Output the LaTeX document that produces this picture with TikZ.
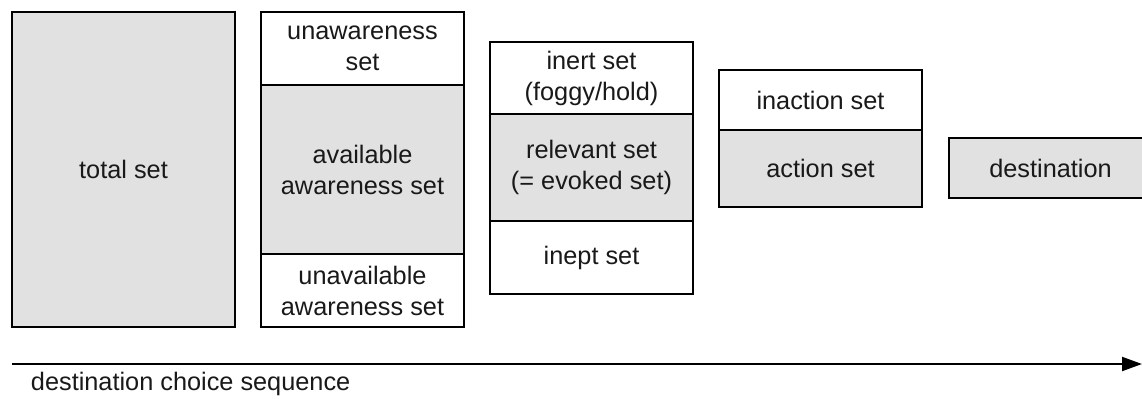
\documentclass[tikz,border=0pt]{standalone}
\usepackage{fontspec}
\setmainfont{Liberation Sans}
\usetikzlibrary{positioning}
\usetikzlibrary{arrows.meta}

\definecolor{setgray}{RGB}{225,225,225}

\tikzset{
    setbox/.style={draw, line width=1.8pt, inner sep=0pt, outer sep=0pt,
        align=center, minimum width=5.075cm, text=black!90},
    grayset/.style={setbox, fill=setgray}
}

\begin{document}
\begin{tikzpicture}[font=\fontsize{18}{22}\selectfont]
    \clip (0,0) rectangle (28.55,-9.95);

    \coordinate (c1) at (0.3, -0.3);
    \coordinate (c2) at (6.525, -0.3);
    \coordinate (c3) at (12.25, -1.05);
    \coordinate (c4) at (17.975, -1.75);
    \coordinate (c5) at (23.725, -3.45);

    \coordinate (s) at (0.3, -9.1);
    \coordinate (e) at (28.55, -9.1);

    % first column
    \node[grayset, anchor=north west, minimum width=5.575cm, minimum height=7.875cm] (total) at (c1) {total set};

    % second column
    \node[setbox, anchor=north west, minimum height=1.825cm] (unaware) at (c2) {unawareness\\set};
    \node[grayset, below=0pt of unaware, minimum height=4.225cm] (avail) {available\\awareness set};
    \node[setbox, below=0pt of avail, minimum height=1.825cm] (unavail) {unavailable\\awareness set};

    % third column
    \node[setbox, anchor=north west, minimum height=1.8cm] (inert) at (c3) {inert set\\(foggy/hold)};
    \node[grayset, below=0pt of inert, minimum height=2.675cm] (relevant) {relevant set\\(= evoked set)};
    \node[setbox, below=0pt of relevant, minimum height=1.825cm] (inept) {inept set};

    % fourth column
    \node[setbox, anchor=north west, minimum height=1.5cm] (inaction) at (c4) {inaction set};
    \node[grayset, below=0pt of inaction, minimum height=1.925cm] (action) {action set};

    \node[grayset, anchor=north west, minimum height=1.5cm] (dest) at (c5) {destination};

    \draw[line width=1.5pt, -{Triangle[length=0.5cm, width=0.35cm]}] (s) -- (e);
    \node[anchor=west, text=black!90] (seq) at (0.65, -9.6) {destination choice sequence};
\end{tikzpicture}
\end{document}
